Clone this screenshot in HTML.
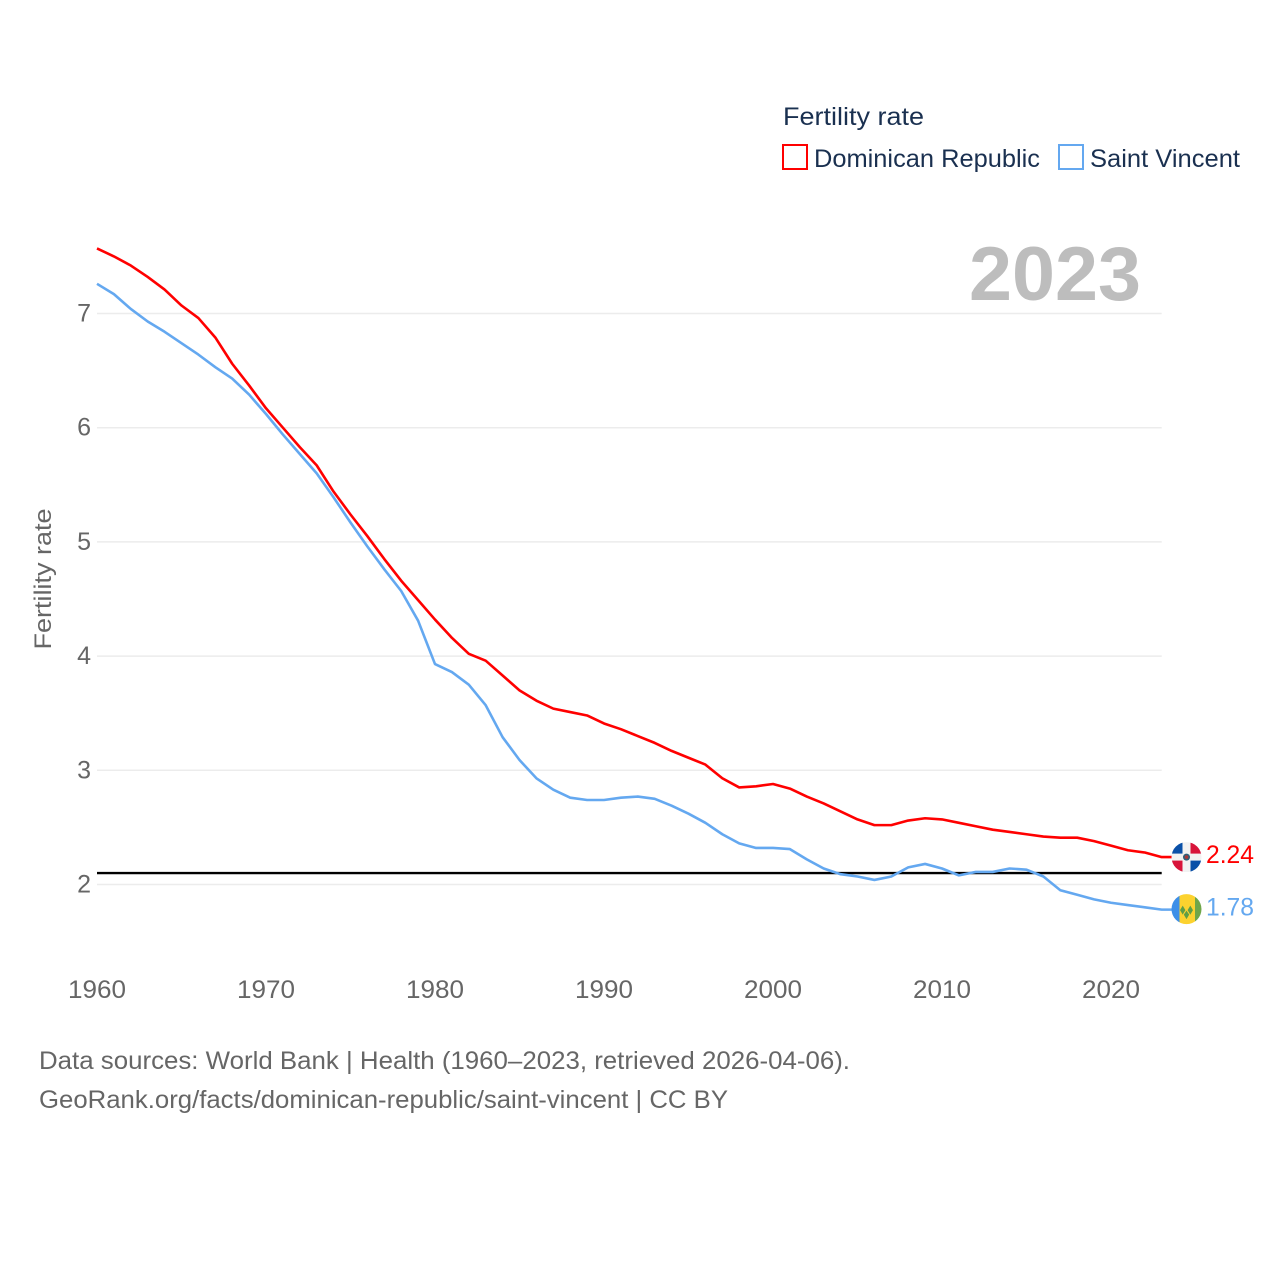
<!DOCTYPE html>
<html lang="en">
<head>
<meta charset="utf-8">
<title>Fertility rate: Dominican Republic vs Saint Vincent</title>
<style>
html,body{margin:0;padding:0;background:#fff;width:1280px;height:1280px;overflow:hidden}
svg{display:block}
text{font-family:"Liberation Sans",sans-serif}
</style>
</head>
<body>
<svg id="chart" width="1280" height="1280" viewBox="0 0 1280 1280" xmlns="http://www.w3.org/2000/svg">
  <defs>
    <clipPath id="flag-clip"><circle cx="0" cy="0" r="15"></circle></clipPath>
  </defs>
  <rect width="1280" height="1280" fill="#fff"></rect>

  <g id="grid"></g>
  <g id="yticks"></g>
  <g id="xticks"></g>

  <text x="51" y="579" transform="rotate(-90 51 579)" text-anchor="middle" font-size="24" fill="#666" textLength="141" lengthAdjust="spacingAndGlyphs">Fertility rate</text>

  <text x="1141" y="300" text-anchor="end" font-size="76" font-weight="700" fill="#bdbdbd" textLength="172" lengthAdjust="spacingAndGlyphs">2023</text>

  <g>
    <text x="783" y="125" font-size="25" fill="#1a3050" textLength="141" lengthAdjust="spacingAndGlyphs">Fertility rate</text>
    <g>
      <rect x="783" y="145" width="24" height="24" fill="#fff" stroke="#ff0000" stroke-width="2"></rect>
      <text x="814" y="167" font-size="25" fill="#1a3050" textLength="226" lengthAdjust="spacingAndGlyphs">Dominican Republic</text>
    </g>
    <g>
      <rect x="1059" y="145" width="24" height="24" fill="#fff" stroke="#64a8f0" stroke-width="2"></rect>
      <text x="1090" y="167" font-size="25" fill="#1a3050" textLength="150" lengthAdjust="spacingAndGlyphs">Saint Vincent</text>
    </g>
  </g>

  <g id="reference"></g>
  <g id="series"></g>

  <g id="flag-dr">
    <g clip-path="url(#flag-clip)">
      <rect x="-15" y="-15" width="30" height="30" fill="#f2f2f2"></rect>
      <rect x="-15" y="-15" width="11" height="11.500" fill="#0a50a8"></rect>
      <rect x="4" y="-15" width="11" height="11.500" fill="#d8143a"></rect>
      <rect x="-15" y="3.500" width="11" height="11.500" fill="#d8143a"></rect>
      <rect x="4" y="3.500" width="11" height="11.500" fill="#0a50a8"></rect>
      <circle r="3.500" fill="#2f5f78"></circle>
      <circle r="1.800" fill="#a83838"></circle>
    </g>
  </g>
  <g id="flag-vc">
    <g clip-path="url(#flag-clip)">
      <rect x="-15" y="-16" width="8" height="32" fill="#3d8fe8"></rect>
      <rect x="-7" y="-16" width="15.500" height="32" fill="#fcd22f"></rect>
      <rect x="8.500" y="-16" width="7" height="32" fill="#6fa64a"></rect>
      <polygon points="-6.500,1 -3.800,-3.500 -1.100,1 -3.800,5.500" fill="#5f9e46"></polygon>
      <polygon points="1.100,1 3.800,-3.500 6.500,1 3.800,5.500" fill="#5f9e46"></polygon>
      <polygon points="-2.700,5.500 0,1.500 2.700,5.500 0,10" fill="#5f9e46"></polygon>
    </g>
  </g>
  <g id="end-labels"></g>

  <g>
    <text x="39" y="1069" font-size="25" fill="#666" textLength="811" lengthAdjust="spacingAndGlyphs">Data sources: World Bank | Health (1960–2023, retrieved 2026-04-06).</text>
    <text x="39" y="1108" font-size="25" fill="#666" textLength="689" lengthAdjust="spacingAndGlyphs">GeoRank.org/facts/dominican-republic/saint-vincent | CC BY</text>
  </g>
</svg>
<script>
const firstYear = 1960;
const xTickYears = [1960, 1970, 1980, 1990, 2000, 2010, 2020];
const yTickValues = [2, 3, 4, 5, 6, 7];
const referenceLevel = 2.1;
const dominicanRepublic = [
  7.57,7.50,7.42,7.32,7.21,7.07,6.96,6.79,6.56,6.37,
  6.17,6.00,5.83,5.67,5.44,5.24,5.05,4.85,4.66,4.49,
  4.32,4.16,4.02,3.96,3.83,3.70,3.61,3.54,3.51,3.48,
  3.41,3.36,3.30,3.24,3.17,3.11,3.05,2.93,2.85,2.86,
  2.88,2.84,2.77,2.71,2.64,2.57,2.52,2.52,2.56,2.58,
  2.57,2.54,2.51,2.48,2.46,2.44,2.42,2.41,2.41,2.38,
  2.34,2.30,2.28,2.24
];
const saintVincent = [
  7.26,7.17,7.04,6.93,6.84,6.74,6.64,6.53,6.43,6.29,
  6.12,5.94,5.77,5.60,5.39,5.17,4.96,4.76,4.57,4.31,
  3.93,3.86,3.75,3.57,3.29,3.09,2.93,2.83,2.76,2.74,
  2.74,2.76,2.77,2.75,2.69,2.62,2.54,2.44,2.36,2.32,
  2.32,2.31,2.22,2.14,2.09,2.07,2.04,2.07,2.15,2.18,
  2.14,2.08,2.11,2.11,2.14,2.13,2.07,1.95,1.91,1.87,
  1.84,1.82,1.80,1.78
];

const NS = 'http://www.w3.org/2000/svg';
const lastYear = firstYear + dominicanRepublic.length - 1;
function xScale(year) { return 97 + (year - firstYear) * (1064.7 / 63); }
function yScale(value) { return 884.5 - (value - 2) * 114.2; }
function make(parentId, tag, attrs, text) {
  const el = document.createElementNS(NS, tag);
  for (const k in attrs) el.setAttribute(k, attrs[k]);
  if (text !== undefined) el.textContent = text;
  document.getElementById(parentId).appendChild(el);
  return el;
}
const flagX = xScale(lastYear) + 24.8;
function linePath(values) {
  const pts = values.map((v, i) => (i ? 'L' : 'M') + xScale(firstYear + i).toFixed(2) + ' ' + yScale(v).toFixed(2)).join(' ');
  return pts + ' H' + (flagX - 14).toFixed(2);
}

yTickValues.forEach(function (v) {
  const g = make('grid', 'line', {x1: xScale(firstYear), x2: xScale(lastYear), y1: yScale(v), y2: yScale(v), stroke: '#ececec', 'stroke-width': 1.5});
  
  
  const t = make('yticks', 'text', {x: 91, y: yScale(v) + 8, 'text-anchor': 'end', 'font-size': 25, fill: '#666'}, String(v));
  
  
});
xTickYears.forEach(function (yr) {
  const t = make('xticks', 'text', {x: xScale(yr), y: 998, 'text-anchor': 'middle', 'font-size': 25, fill: '#666', textLength: 58, lengthAdjust: 'spacingAndGlyphs'}, String(yr));
  
  
});

const refLine = make('reference', 'line', {x1: xScale(firstYear), x2: xScale(lastYear), y1: yScale(referenceLevel), y2: yScale(referenceLevel), stroke: '#000', 'stroke-width': 2.4});



const blueLine = make('series', 'path', {d: linePath(saintVincent), fill: 'none', stroke: '#64a8f0', 'stroke-width': 2.6, 'stroke-linejoin': 'round'});


const redLine = make('series', 'path', {d: linePath(dominicanRepublic), fill: 'none', stroke: '#ff0000', 'stroke-width': 2.6, 'stroke-linejoin': 'round'});



const drLast = dominicanRepublic[dominicanRepublic.length - 1];
const vcLast = saintVincent[saintVincent.length - 1];
document.getElementById('flag-dr').setAttribute('transform', 'translate(' + flagX + ',' + yScale(drLast) + ')');
document.getElementById('flag-vc').setAttribute('transform', 'translate(' + flagX + ',' + (yScale(vcLast) - 0.5) + ')');

const drLabel = make('end-labels', 'text', {x: 1206, y: yScale(drLast) + 6, 'font-size': 25, fill: '#ff0000', textLength: 48, lengthAdjust: 'spacingAndGlyphs'}, drLast.toFixed(2));


const vcLabel = make('end-labels', 'text', {x: 1206, y: yScale(vcLast) + 6, 'font-size': 25, fill: '#64a8f0', textLength: 48, lengthAdjust: 'spacingAndGlyphs'}, vcLast.toFixed(2));


</script>
</body>
</html>
